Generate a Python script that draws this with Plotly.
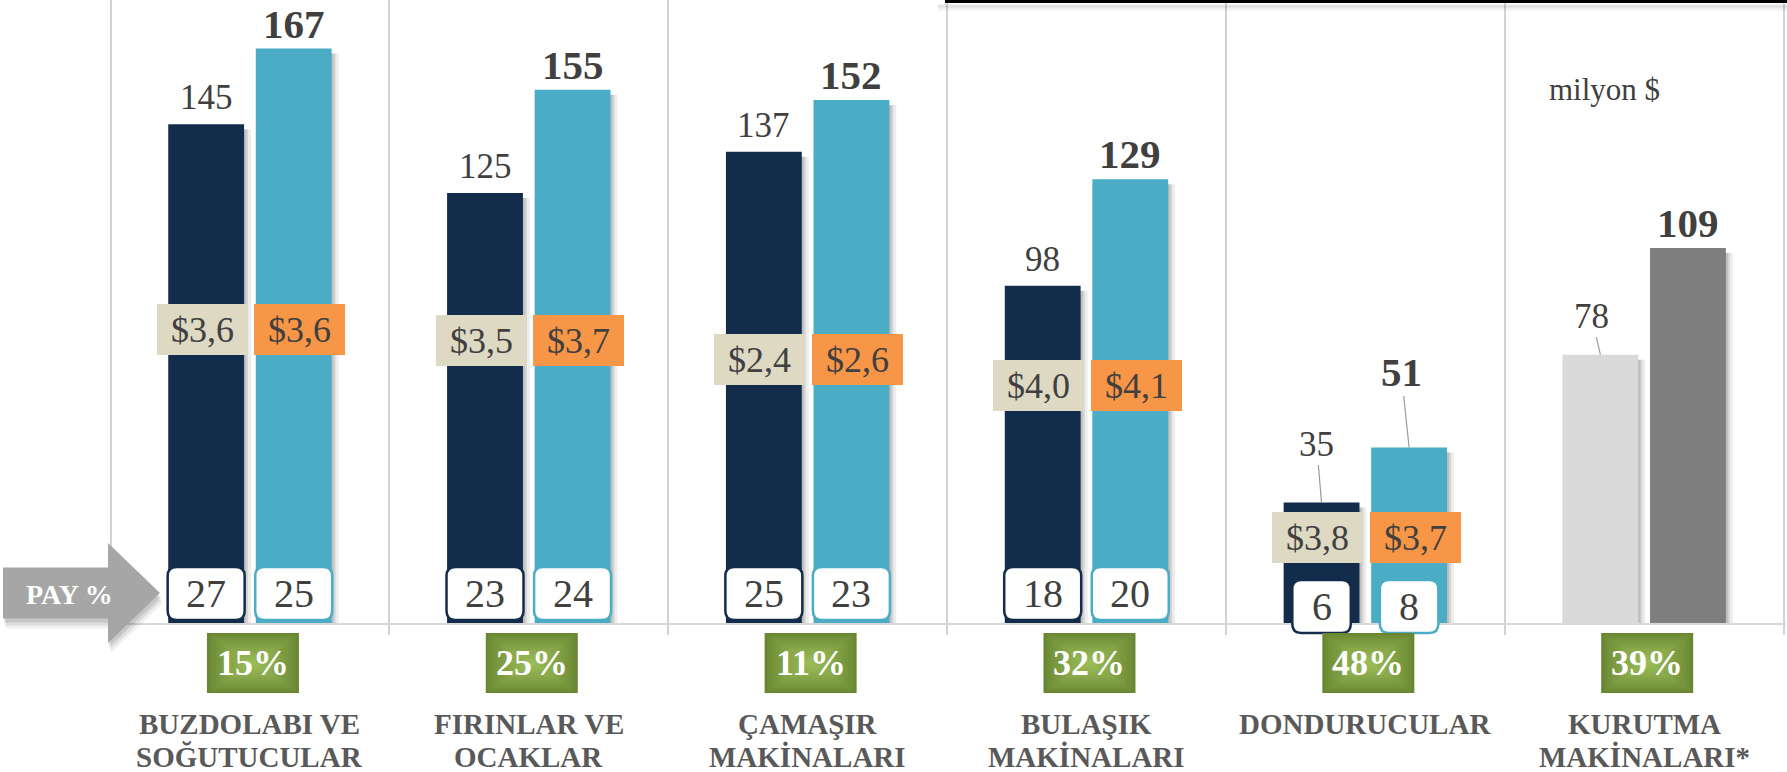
import plotly.graph_objects as go

# ---------------- data ----------------
categories = ["BUZDOLABI VE<br>SOĞUTUCULAR", "FIRINLAR VE<br>OCAKLAR", "ÇAMAŞIR<br>MAKİNALARI",
              "BULAŞIK<br>MAKİNALARI", "DONDURUCULAR", "KURUTMA<br>MAKİNALARI*"]
values_prev = [145, 125, 137, 98, 35, 78]
values_curr = [167, 155, 152, 129, 51, 109]
growth_pct = [15, 25, 11, 32, 48, 39]
price_prev = [3.6, 3.5, 2.4, 4.0, 3.8]
price_curr = [3.6, 3.7, 2.6, 4.1, 3.7]
share_prev = [27, 23, 25, 18, 6]
share_curr = [25, 24, 23, 20, 8]
unit_label = "milyon $"
share_label = "PAY %"

# ---------------- layout helpers ----------------
W, H = 1787, 772
ML, MR, MT, MB = 108, 1, 0, 149
PLOT_W = W - ML - MR
PLOT_H = H - MT - MB
X_RANGE = [-0.509, 5.5086]
Y_RANGE = [0, 181.1]
PX_X = PLOT_W / (X_RANGE[1] - X_RANGE[0])
PX_Y = PLOT_H / (Y_RANGE[1] - Y_RANGE[0])


def paper_y(px):
    return (MT + PLOT_H - px) / PLOT_H


def paper_x(px):
    return (px - ML) / PLOT_W


FONT = "Liberation Serif, Times New Roman, serif"
TXT = "#404040"
NAVY = "#132C4B"
BLUE = "#4BACC6"
ORANGE = "#F79646"
BEIGE = "#DDD9C3"
LGRAY = "#D9D9D9"
DGRAY = "#7F7F7F"
GRID = "#D3D3D3"

OFF = 0.157
BAR_W = 0.272
idx = list(range(len(categories)))
x_prev = [i - OFF for i in idx]
x_curr = [i + OFF for i in idx]
n_col = len(share_prev)  # categories that have the colored scheme
colors_prev = [NAVY if i < n_col else LGRAY for i in idx]
colors_curr = [BLUE if i < n_col else DGRAY for i in idx]

fig = go.Figure()

# soft shadows to the right of bars
for dx, a in [(7, 0.07), (4, 0.10), (2, 0.10)]:
    for xs, ys in [(x_prev, values_prev), (x_curr, values_curr)]:
        fig.add_trace(go.Bar(
            x=[x + dx / PX_X for x in xs], y=[v - 5 / PX_Y for v in ys], width=BAR_W,
            marker=dict(color=f"rgba(0,0,0,{a})", line_width=0),
            hoverinfo="skip", showlegend=False))

fig.add_trace(go.Bar(x=x_prev, y=values_prev, width=BAR_W,
                     marker=dict(color=colors_prev, line=dict(width=0)),
                     showlegend=False, hoverinfo="skip"))
fig.add_trace(go.Bar(x=x_curr, y=values_curr, width=BAR_W,
                     marker=dict(color=colors_curr, line=dict(width=0)),
                     showlegend=False, hoverinfo="skip"))

annotations = []
shapes = []

# value labels
leader = {(4, 0): (-5, -58.5), (4, 1): (-8, -76), (5, 0): (-9, -38.5)}
for s, (xs, ys) in enumerate([(x_prev, values_prev), (x_curr, values_curr)]):
    for i, v in enumerate(ys):
        txt = f"<b>{v}</b>" if s == 1 else f"{v}"
        fsize = 41 if s == 1 else 35
        if (i, s) in leader:
            ax, ay = leader[(i, s)]
            annotations.append(dict(x=xs[i], y=v, xref="x", yref="y", text=txt,
                                    showarrow=True, arrowhead=0, arrowwidth=1.2,
                                    arrowcolor="#9A9A9A", ax=ax, ay=ay, standoff=0,
                                    font=dict(family=FONT, size=fsize, color=TXT)))
        else:
            annotations.append(dict(x=xs[i], y=v, xref="x", yref="y", text=txt,
                                    showarrow=False, xanchor="center", yanchor="bottom",
                                    yshift=1 if s == 1 else 6, borderpad=0,
                                    font=dict(family=FONT, size=fsize, color=TXT)))

# price labels
price_level = [85.3, 82.1, 76.7, 69.1, 24.9]


def fmt_price(p):
    return ("$" + f"{p:.1f}").replace(".", ",")


for i in range(len(price_prev)):
    for xs, vals, bg, dxs in [(x_prev, price_prev, BEIGE, -4), (x_curr, price_curr, ORANGE, 6)]:
        annotations.append(dict(x=xs[i], y=price_level[i], xref="x", yref="y", xshift=dxs,
                                text=fmt_price(vals[i]), showarrow=False, width=91, height=51,
                                xanchor="center", yanchor="middle",
                                bgcolor=bg, borderpad=0, borderwidth=0, valign="middle",
                                font=dict(family=FONT, size=36, color=TXT)))


# share (PAY %) boxes with rounded corners
def rrect(w, h, r, cx=0.0, cy=0.0):
    x0, x1, y0, y1 = cx - w / 2, cx + w / 2, cy - h / 2, cy + h / 2
    return (f"M{x0 + r},{y0} L{x1 - r},{y0} Q{x1},{y0} {x1},{y0 + r} L{x1},{y1 - r} "
            f"Q{x1},{y1} {x1 - r},{y1} L{x0 + r},{y1} Q{x0},{y1} {x0},{y1 - r} "
            f"L{x0},{y0 + r} Q{x0},{y0} {x0 + r},{y0} Z")


for i in range(len(share_prev)):
    for xs, vals, border in [(x_prev, share_prev, NAVY), (x_curr, share_curr, BLUE)]:
        t = str(vals[i])
        w = 40 + 18.5 * len(t)
        cpx = 593.5 if len(t) > 1 else 606.5
        shapes.append(dict(type="path", xref="x", yref="paper", xsizemode="pixel",
                           ysizemode="pixel", xanchor=xs[i], yanchor=paper_y(cpx),
                           path=rrect(w, 53, 9), fillcolor="white",
                           line=dict(color=border, width=2.5), layer="above"))
        annotations.append(dict(x=xs[i], y=paper_y(cpx), xref="x", yref="paper", text=t,
                                showarrow=False, xanchor="center", yanchor="middle",
                                font=dict(family=FONT, size=40, color=TXT)))

# PAY % arrow
arrow_path = "M-105,-25.5 L0,-25.5 L0,-50 L52,0 L0,50 L0,25.5 L-105,25.5 Z"
for dx, dy, col in [(3, 10, "rgba(0,0,0,0.06)"), (2, 7, "rgba(0,0,0,0.08)"), (1, 4, "rgba(0,0,0,0.10)")]:
    shapes.append(dict(type="path", xref="paper", yref="paper", xsizemode="pixel",
                       ysizemode="pixel", xanchor=paper_x(108 + dx), yanchor=paper_y(593 + dy),
                       path=arrow_path, fillcolor=col, line=dict(width=0), layer="above"))
shapes.append(dict(type="path", xref="paper", yref="paper", xsizemode="pixel",
                   ysizemode="pixel", xanchor=paper_x(108), yanchor=paper_y(593),
                   path=arrow_path, fillcolor="#A6A6A6", line=dict(width=0), layer="above"))
annotations.append(dict(x=paper_x(69), y=paper_y(594), xref="paper", yref="paper",
                        text=f"<b>{share_label}</b>", showarrow=False,
                        xanchor="center", yanchor="middle",
                        font=dict(family=FONT, size=28, color="white")))

# growth boxes (gradient approximation)
outer = (0x69, 0x86, 0x32)
inner = (0x9A, 0xBC, 0x57)
N = 16
gy = paper_y(663)
for i, g in enumerate(growth_pct):
    for k in range(N):
        f = 1 - k / N
        t = (k / (N - 1)) ** 0.8
        c = tuple(int(round(o + (n - o) * t)) for o, n in zip(outer, inner))
        shapes.append(dict(type="path", xref="x", yref="paper", xsizemode="pixel",
                           ysizemode="pixel", xanchor=i, yanchor=gy,
                           path=rrect(92 * f, 60 * f, 0, cx=3),
                           fillcolor=f"rgb{c}", line=dict(width=0), layer="above"))
    annotations.append(dict(x=i, y=gy, xref="x", yref="paper", xshift=3,
                            text=f"<b>{g}%</b>", showarrow=False,
                            xanchor="center", yanchor="middle",
                            font=dict(family=FONT, size=36, color="white")))

# category labels
for i, c in enumerate(categories):
    for j, line in enumerate(c.split("<br>")):
        annotations.append(dict(x=i, y=paper_y(723.8 + 33 * j), xref="x", yref="paper",
                                text=f"<b>{line}</b>", showarrow=False,
                                xanchor="center", yanchor="middle",
                                font=dict(family=FONT, size=29, color="#595959")))

# unit label
annotations.append(dict(x=paper_x(1604), y=paper_y(89.6), xref="paper", yref="paper",
                        text=unit_label, showarrow=False, xanchor="center", yanchor="middle",
                        font=dict(family=FONT, size=31, color=TXT)))

# thin black border line at the top right with soft shadow
for dy, col, wdt in [(7, "rgba(0,0,0,0.05)", 4), (4.5, "rgba(0,0,0,0.10)", 3)]:
    shapes.append(dict(type="line", xref="paper", yref="paper", x0=paper_x(938), x1=1.01,
                       y0=paper_y(1.5 + dy), y1=paper_y(1.5 + dy), line=dict(color=col, width=wdt),
                       layer="above"))
shapes.append(dict(type="line", xref="paper", yref="paper", x0=paper_x(945), x1=1.01,
                   y0=paper_y(1.5), y1=paper_y(1.5), line=dict(color="#000000", width=3),
                   layer="above"))

boundaries = [i - 0.5 for i in range(len(categories) + 1)]

fig.update_layout(
    width=W, height=H,
    margin=dict(l=ML, r=MR, t=MT, b=MB, pad=0),
    paper_bgcolor="white", plot_bgcolor="white",
    barmode="overlay",
    showlegend=False,
    xaxis=dict(range=X_RANGE, tickvals=boundaries, showticklabels=False,
               showgrid=True, gridcolor=GRID, gridwidth=2,
               ticks="outside", ticklen=10, tickwidth=2, tickcolor=GRID,
               showline=True, linecolor="#D9D9D9", linewidth=2, zeroline=False,
               fixedrange=True),
    yaxis=dict(range=Y_RANGE, visible=False, showgrid=False, zeroline=False, fixedrange=True),
    annotations=annotations,
    shapes=shapes,
)

fig.write_html("out.html", config={"displayModeBar": False},
               post_script="document.body.style.margin='0';document.body.style.overflow='hidden';")
